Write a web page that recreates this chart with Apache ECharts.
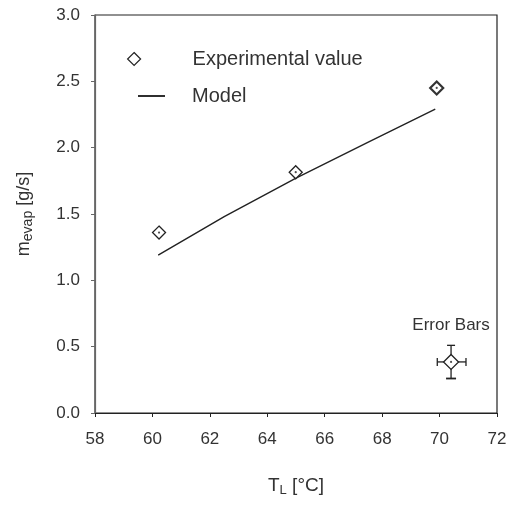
<!DOCTYPE html>
<html>
<head>
<meta charset="utf-8">
<script src="https://cdn.jsdelivr.net/npm/echarts@6/dist/echarts.min.js"></script>
<style>html,body{margin:0;padding:0;background:#fff;}#c{width:513px;height:508px;}</style>
</head>
<body>
<div id="c"></div>
<script>
// ---- data ----
var expT = [60.23, 64.99, 69.9];
var expM = [1.36, 1.815, 2.45];
var modelT = [60.2, 62.5, 65.0, 67.5, 69.85];
var modelM = [1.19, 1.48, 1.77, 2.04, 2.29];
// error bar sample: [T, m, Tlow, Thigh, mlow, mhigh]
var errSample = [70.4, 0.385, 69.92, 70.92, 0.26, 0.51];
var xTicks = [58, 72, 2];
var yTicks = [0, 3, 0.5];

var FONT = 'Liberation Sans, Arial, sans-serif';
var INK = '#222';

var expData = expT.map(function (t, i) {
  var d = { value: [t, expM[i]] };
  if (i === expT.length - 1) d.itemStyle = { borderWidth: 2.2, borderColor: '#333' };
  return d;
});
var modelData = modelT.map(function (t, i) { return [t, modelM[i]]; });

var chart = echarts.init(document.getElementById('c'), null, { renderer: 'canvas' });
chart.setOption({
  animation: false,
  backgroundColor: '#fff',
  textStyle: { fontFamily: FONT },
  grid: { left: 95, right: 16, top: 15, bottom: 95, show: true, borderColor: INK, borderWidth: 1.2, backgroundColor: 'transparent' },
  legend: [
    {
      data: [{ name: 'Experimental value', icon: 'diamond' }], left: 122, top: 44, itemWidth: 13, itemHeight: 13,
      itemStyle: { color: '#fff', borderColor: INK, borderWidth: 1.2 },
      textStyle: { fontFamily: FONT, fontSize: 20, color: '#333', padding: [0, 0, 0, 47] },
      selectedMode: false
    },
    {
      data: [{ name: 'Model', icon: 'path://M0,0 L20,0 L20,1.4 L0,1.4 Z' }], left: 133, top: 81, itemWidth: 27, itemHeight: 20,
      itemStyle: { color: INK, borderWidth: 0 },
      textStyle: { fontFamily: FONT, fontSize: 20, color: '#333', padding: [0, 0, 0, 22] },
      selectedMode: false
    }
  ],
  xAxis: {
    type: 'value', min: xTicks[0], max: xTicks[1], interval: xTicks[2],
    axisLine: { show: true, lineStyle: { color: INK, width: 1.2 } },
    axisTick: { show: true, inside: false, length: 4, lineStyle: { color: INK } },
    splitLine: { show: false },
    axisLabel: { fontFamily: FONT, fontSize: 17, color: '#333', margin: 18 },
    name: '{t|T}{s|L}{t| [°C]}', nameLocation: 'middle', nameGap: 62,
    nameTextStyle: {
      rich: {
        t: { fontFamily: FONT, fontSize: 19, color: '#333', lineHeight: 22 },
        s: { fontFamily: FONT, fontSize: 13, color: '#333', lineHeight: 13, verticalAlign: 'bottom' }
      }
    }
  },
  yAxis: {
    type: 'value', min: yTicks[0], max: yTicks[1], interval: yTicks[2],
    axisLine: { show: true, lineStyle: { color: '#666', width: 1.2 } },
    axisTick: { show: true, inside: false, length: 4, lineStyle: { color: '#666' } },
    splitLine: { show: false },
    axisLabel: { fontFamily: FONT, fontSize: 17, color: '#333', margin: 15, formatter: function (v) { return v.toFixed(1); } },
    name: '{m|m}{s|evap}{m| [g/s]}', nameLocation: 'middle', nameGap: 60, nameRotate: 90,
    nameTextStyle: {
      rich: {
        m: { fontFamily: FONT, fontSize: 18, color: '#333', lineHeight: 22 },
        s: { fontFamily: FONT, fontSize: 14, color: '#333', lineHeight: 13, verticalAlign: 'bottom' }
      }
    }
  },
  series: [
    {
      name: 'Model', type: 'line', data: modelData, symbol: 'none', showSymbol: false,
      lineStyle: { color: INK, width: 1.4 }, itemStyle: { color: INK }, z: 2
    },
    {
      name: 'Experimental value', type: 'scatter', data: expData, symbol: 'diamond', symbolSize: 13,
      itemStyle: { color: '#fff', borderColor: INK, borderWidth: 1.3, opacity: 1 }, z: 3
    },
    {
      name: 'dots', type: 'scatter', silent: true, symbol: 'circle', symbolSize: 2.2,
      data: expData.map(function (d) { return d.value; }).concat([[errSample[0], errSample[1]]]),
      itemStyle: { color: INK }, z: 5
    },
    {
      name: 'errbars', type: 'custom', silent: true, z: 3,
      data: [errSample],
      renderItem: function (params, api) {
        var c = api.coord([api.value(0), api.value(1)]);
        var l = api.coord([api.value(2), api.value(1)]);
        var r = api.coord([api.value(3), api.value(1)]);
        var b = api.coord([api.value(0), api.value(4)]);
        var t = api.coord([api.value(0), api.value(5)]);
        var st = { stroke: INK, lineWidth: 1.3 };
        return {
          type: 'group', children: [
            { type: 'line', shape: { x1: l[0], y1: c[1], x2: r[0], y2: c[1] }, style: st },
            { type: 'line', shape: { x1: l[0], y1: c[1] - 4, x2: l[0], y2: c[1] + 4 }, style: st },
            { type: 'line', shape: { x1: r[0], y1: c[1] - 4, x2: r[0], y2: c[1] + 4 }, style: st },
            { type: 'line', shape: { x1: c[0], y1: t[1], x2: c[0], y2: b[1] }, style: st },
            { type: 'line', shape: { x1: c[0] - 4, y1: t[1], x2: c[0] + 4, y2: t[1] }, style: st },
            { type: 'line', shape: { x1: c[0] - 5, y1: b[1], x2: c[0] + 5, y2: b[1] }, style: { stroke: INK, lineWidth: 1.8 } }
          ]
        };
      }
    },
    {
      name: 'errsample', type: 'scatter', symbol: 'diamond', symbolSize: 15, z: 4,
      data: [[errSample[0], errSample[1]]],
      itemStyle: { color: '#fff', borderColor: INK, borderWidth: 1.3, opacity: 1 },
      label: { show: true, position: 'top', distance: 20, formatter: 'Error Bars', fontFamily: FONT, fontSize: 17, color: '#333' }
    }
  ]
});
</script>
</body>
</html>
